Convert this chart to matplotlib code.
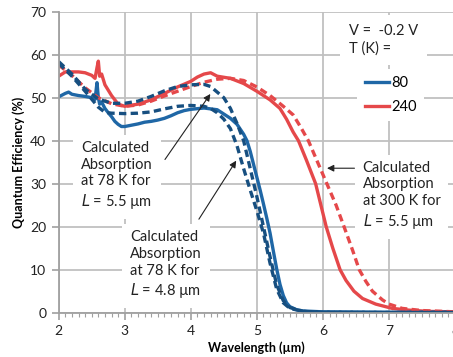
import matplotlib
matplotlib.use("Agg")
import matplotlib.pyplot as plt
from matplotlib.lines import Line2D
from matplotlib.ticker import MultipleLocator

plt.rcParams['font.family'] = ['Lato', 'DejaVu Sans']

# ---- data ----
blue_x = [2.0, 2.1, 2.15, 2.2, 2.3, 2.4, 2.5, 2.55, 2.58, 2.6, 2.62, 2.65, 2.7, 2.75, 2.8, 2.85,
          2.9, 2.95, 3.0, 3.1, 3.2, 3.3, 3.4, 3.5, 3.6, 3.7, 3.8, 3.9, 4.0, 4.2, 4.4, 4.5, 4.6,
          4.7, 4.8, 4.85, 4.9, 4.95, 5.0, 5.05, 5.1, 5.15, 5.2, 5.25, 5.3, 5.35, 5.4, 5.45, 5.5,
          5.6, 5.7, 6.0, 7.0, 8.0]
blue_y = [50.2, 51.0, 51.3, 50.8, 50.5, 50.3, 50.0, 49.6, 53.5, 50.0, 48.5, 49.0, 47.5, 46.5,
          45.6, 44.5, 43.8, 43.3, 43.3, 43.6, 43.9, 44.3, 44.5, 44.8, 45.2, 45.8, 46.5, 47.0,
          47.3, 47.6, 47.2, 46.2, 45.2, 43.8, 41.5, 40.0, 37.5, 34.5, 31.5, 28.5, 25.3, 22.0,
          18.5, 14.3, 10.2, 6.6, 4.0, 2.3, 1.4, 0.7, 0.4, 0.2, 0.1, 0.1]

red_x = [2.0, 2.1, 2.2, 2.3, 2.4, 2.5, 2.55, 2.58, 2.6, 2.62, 2.65, 2.7, 2.8, 2.9, 3.0, 3.2,
         3.4, 3.6, 3.8, 4.0, 4.1, 4.2, 4.3, 4.4, 4.6, 4.8, 5.0, 5.2, 5.35, 5.45, 5.55, 5.63,
         5.75, 5.89, 5.97, 6.05, 6.15, 6.26, 6.35, 6.47, 6.6, 6.8, 7.05, 7.3, 7.6, 8.0]
red_y = [55.0, 56.0, 56.0, 56.0, 55.8, 55.2, 54.5, 57.0, 58.5, 55.0, 55.5, 53.0, 50.5, 48.5,
         48.0, 48.5, 49.5, 51.0, 52.5, 53.8, 54.8, 55.5, 55.8, 55.0, 54.5, 53.3, 51.5, 49.5,
         47.5, 45.0, 42.0, 40.0, 35.5, 30.0, 25.0, 20.0, 15.0, 10.0, 7.5, 5.0, 3.3, 2.0, 1.0,
         0.6, 0.3, 0.2]

calc78_55_x = [2.0, 2.2, 2.4, 2.6, 2.8, 3.0, 3.2, 3.4, 3.6, 3.8, 4.0, 4.2, 4.3, 4.4, 4.5, 4.6,
               4.7, 4.8, 4.9, 5.0, 5.1, 5.2, 5.3, 5.4, 5.5, 5.7, 6.0, 7.0, 8.0]
calc78_55_y = [58.4, 55.5, 52.0, 49.7, 48.7, 48.7, 49.2, 50.3, 51.6, 52.6, 53.0, 53.1, 52.6,
               51.3, 50.0, 47.5, 44.0, 40.0, 33.5, 27.0, 20.0, 13.0, 6.5, 2.8, 1.2, 0.3, 0.1,
               0.05, 0.05]

calc78_48_x = [2.0, 2.2, 2.4, 2.6, 2.7, 2.8, 3.0, 3.2, 3.4, 3.6, 3.8, 4.0, 4.2, 4.3, 4.4, 4.5,
               4.6, 4.7, 4.8, 4.9, 5.0, 5.1, 5.2, 5.3, 5.4, 5.5, 5.7, 6.0, 7.0, 8.0]
calc78_48_y = [58.0, 55.0, 51.5, 47.8, 46.6, 46.4, 46.3, 46.4, 46.7, 47.4, 48.0, 48.2, 48.0,
               47.5, 46.5, 45.0, 42.8, 38.8, 33.5, 28.5, 23.7, 18.5, 11.5, 5.5, 2.3, 1.0, 0.3,
               0.1, 0.05, 0.05]

calc300_x = [2.0, 2.2, 2.4, 2.6, 2.8, 3.0, 3.2, 3.4, 3.6, 3.8, 4.0, 4.2, 4.4, 4.6, 4.8, 5.0,
             5.2, 5.4, 5.55, 5.65, 5.78, 5.92, 6.06, 6.2, 6.32, 6.45, 6.55, 6.65, 6.75, 6.9,
             7.0, 7.2, 7.5, 8.0]
calc300_y = [57.6, 55.2, 52.3, 50.0, 48.6, 48.0, 48.3, 49.2, 50.4, 51.5, 52.6, 53.6, 54.3,
             54.5, 54.0, 52.5, 50.5, 48.0, 46.0, 43.5, 40.0, 35.0, 30.0, 25.0, 20.0, 14.5,
             10.0, 7.3, 5.0, 3.0, 2.0, 1.0, 0.5, 0.2]

legend_title = "V =  -0.2 V\nT (K) ="
legend_labels = ["80", "240"]

ann1 = "Calculated\nAbsorption\nat 78 K for\n$\\it{L}$ = 5.5 µm"
ann2 = "Calculated\nAbsorption\nat 78 K for\n$\\it{L}$ = 4.8 µm"
ann3 = "Calculated\nAbsorption\nat 300 K for\n$\\it{L}$ = 5.5 µm"

# ---- style ----
BLUE = "#1f67a6"
DBLUE = "#174f80"
RED = "#e5484a"
GRID = "#c0c0c0"
W, H = 453, 357

fig = plt.figure(figsize=(W / 100, H / 100), dpi=100)
ax = fig.add_axes([58.7 / W, 1 - 312.7 / H, (455 - 58.7) / W, (312.7 - 11.7) / H])

ax.set_xlim(2, 8)
ax.set_ylim(0, 70)
ax.xaxis.set_major_locator(MultipleLocator(1))
ax.xaxis.set_minor_locator(MultipleLocator(0.1))
ax.yaxis.set_major_locator(MultipleLocator(10))
ax.grid(True, which='major', color=GRID, lw=1.3)
ax.set_axisbelow(True)
for s in ['top', 'right']:
    ax.spines[s].set_visible(False)
for s in ['left', 'bottom']:
    ax.spines[s].set_color('#a0a0a0')
    ax.spines[s].set_linewidth(1.3)
ax.tick_params(which='major', direction='out', length=5, width=1.2, color='#a0a0a0',
               labelsize=10, labelcolor='#222222', pad=4)
ax.tick_params(axis='x', which='minor', direction='out', length=3, width=0.8, color='#a0a0a0')
ax.tick_params(axis='y', which='minor', length=0)

lw = 2.4
ax.plot(red_x, red_y, color=RED, lw=lw, solid_joinstyle='round')
ax.plot(blue_x, blue_y, color=BLUE, lw=lw, solid_joinstyle='round')
ax.plot(calc300_x, calc300_y, color=RED, lw=lw, dashes=(2.2, 1.3))
ax.plot(calc78_55_x, calc78_55_y, color=DBLUE, lw=lw, dashes=(2.2, 1.3))
ax.plot(calc78_48_x, calc78_48_y, color=DBLUE, lw=lw, dashes=(2.2, 1.3))

ax.set_xlabel("Wavelength (µm)", fontsize=9, fontweight='bold', labelpad=3)
ax.set_ylabel("Quantum Efficiency (%)", fontsize=9, fontweight='bold', labelpad=4)

bbox = dict(boxstyle='square,pad=0.55', facecolor='white', edgecolor='none')
tkw = dict(fontsize=10.5, color='#222222', ha='left', va='center', linespacing=1.25, bbox=bbox,
           zorder=5)

ax.annotate("", xy=(4.32, 51.4), xytext=(3.585, 35.1),
            arrowprops=dict(arrowstyle='-|>', color='#222222', lw=0.8, mutation_scale=10),
            zorder=6)
ax.annotate("", xy=(4.71, 35.9), xytext=(4.1, 21.2),
            arrowprops=dict(arrowstyle='-|>', color='#222222', lw=0.8, mutation_scale=10),
            zorder=6)
ax.annotate("", xy=(6.02, 33.6), xytext=(6.52, 33.6),
            arrowprops=dict(arrowstyle='-|>', color='#222222', lw=0.8, mutation_scale=10),
            zorder=6)

ax.text(2.34, 31.8, ann1, **tkw)
ax.text(3.08, 11.0, ann2, **tkw)
ax.text(6.6, 27.2, ann3, **tkw)

ax.text(6.39, 63.4, legend_title, fontsize=10.5, color='#222222', ha='left', va='center',
        linespacing=1.3, bbox=dict(boxstyle='square,pad=0.6', facecolor='white',
                                   edgecolor='none'), zorder=5)

handles = [Line2D([], [], color=BLUE, lw=2.4), Line2D([], [], color=RED, lw=2.4)]
leg = ax.legend(handles, legend_labels, loc='upper left', bbox_to_anchor=(0.735, 0.835),
                frameon=True, fontsize=10.5, handlelength=1.7, handletextpad=0.15,
                labelspacing=0.7, borderpad=0.5, fancybox=False)
leg.get_frame().set_edgecolor('none')
leg.get_frame().set_facecolor('white')
leg.get_frame().set_alpha(1)
leg.set_zorder(5)

fig.savefig("out.png", dpi=100)
